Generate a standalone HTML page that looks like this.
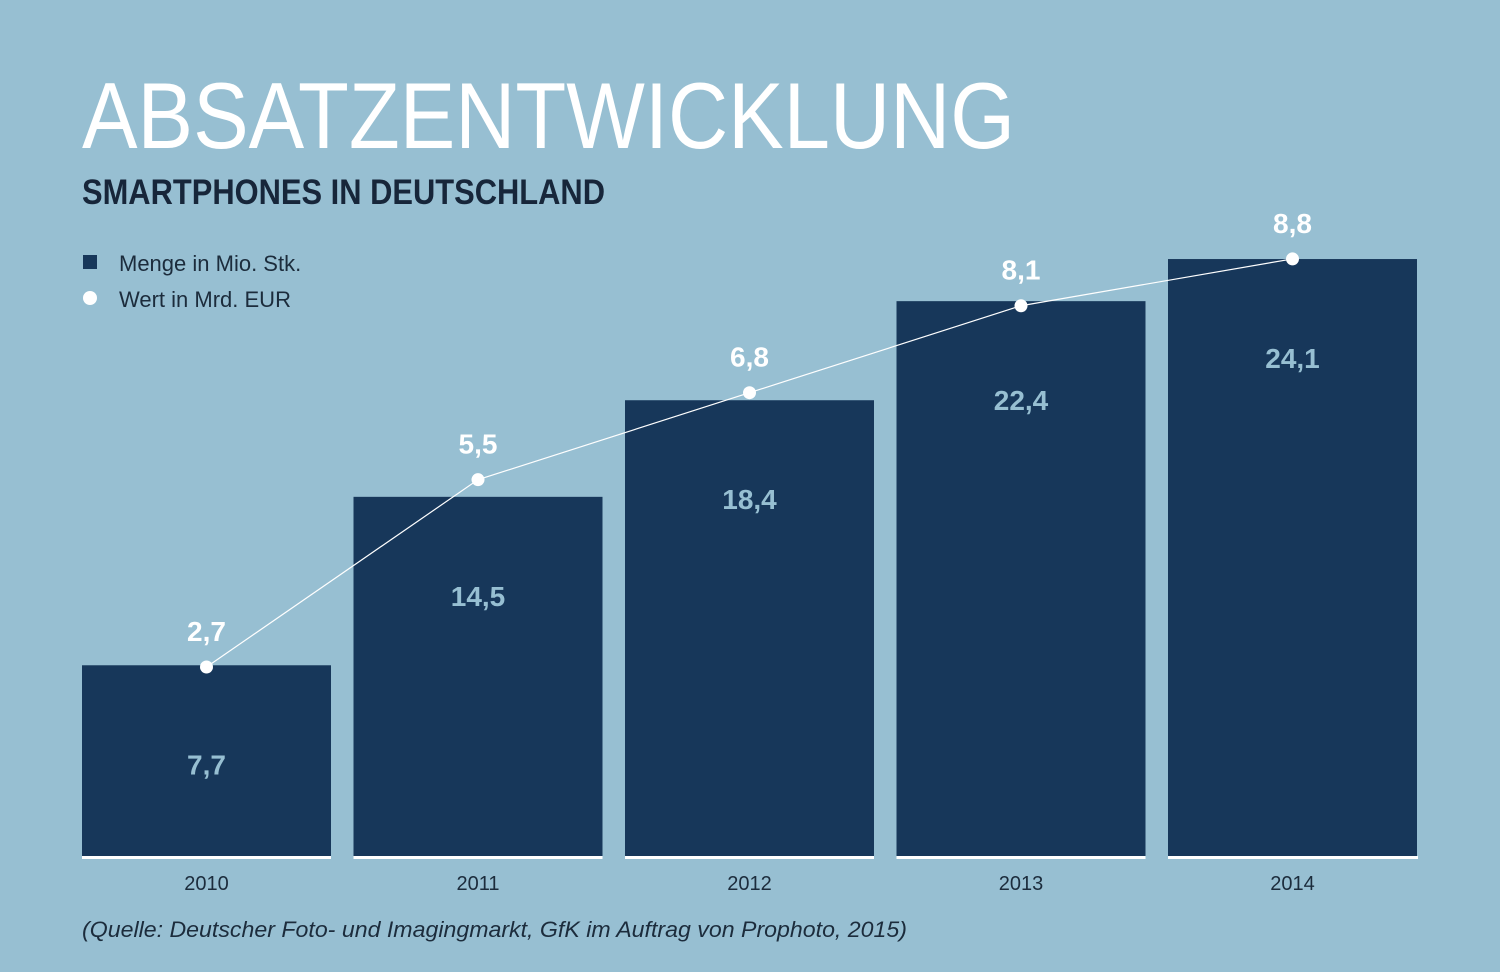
<!DOCTYPE html>
<html><head><meta charset="utf-8"><style>
html,body{margin:0;padding:0;background:#97bfd2;}
svg{display:block;font-family:"Liberation Sans",sans-serif;}
</style></head><body>
<svg id="chart" width="1500" height="972" viewBox="0 0 1500 972" xmlns="http://www.w3.org/2000/svg">
<rect width="1500" height="972" fill="#97bfd2"/>
<text x="82" y="148" font-size="94" fill="#ffffff" textLength="933" lengthAdjust="spacingAndGlyphs">ABSATZENTWICKLUNG</text>
<text x="82" y="204" font-size="35" font-weight="bold" fill="#17263a" textLength="523" lengthAdjust="spacingAndGlyphs">SMARTPHONES IN DEUTSCHLAND</text>
<g>
<rect x="83" y="255" width="14" height="14" fill="#17375a"/>
<text x="119" y="271" font-size="22" fill="#1c2c3c">Menge in Mio. Stk.</text>
<circle cx="90" cy="298" r="7" fill="#ffffff"/>
<text x="119" y="307" font-size="22" fill="#1c2c3c">Wert in Mrd. EUR</text>
</g>
<g id="plot"></g>
<text x="82" y="937" font-size="22" font-style="italic" fill="#1c2c3c" textLength="825" lengthAdjust="spacingAndGlyphs">(Quelle: Deutscher Foto- und Imagingmarkt, GfK im Auftrag von Prophoto, 2015)</text>
</svg>
<script>
const years = ["2010","2011","2012","2013","2014"];
const menge = [7.7, 14.5, 18.4, 22.4, 24.1];
const wert = [2.7, 5.5, 6.8, 8.1, 8.8];
const mengeLabels = ["7,7","14,5","18,4","22,4","24,1"];
const wertLabels = ["2,7","5,5","6,8","8,1","8,8"];

const NS = "http://www.w3.org/2000/svg";
const g = document.getElementById("plot");
const baseY = 856, barW = 249, x0 = 82, step = 271.5;
function xBar(i){ return x0 + i*step; }
function yBar(v){ return baseY - v*24.77; }
function yLine(v){ return 667 - (v-2.7)*66.9; }
function mk(tag, attrs){ const e=document.createElementNS(NS,tag); for(const k in attrs) e.setAttribute(k,attrs[k]); g.appendChild(e); return e; }

menge.forEach((v,i)=>{
  const r = mk("rect",{x:xBar(i),y:yBar(v),width:barW,height:baseY-yBar(v),fill:"#17375a"});
  
  
  const t = mk("text",{x:xBar(i)+barW/2,y:yBar(v)+109,"font-size":28,"font-weight":"bold",fill:"#97bfd2","text-anchor":"middle"});
  t.textContent = mengeLabels[i];
  
  
  const yl = mk("text",{x:xBar(i)+barW/2,y:890,"font-size":20,fill:"#1c2c3c","text-anchor":"middle"});
  yl.textContent = years[i];
  
  
});
const base = mk("rect",{x:82,y:856,width:1336,height:3,fill:"#ffffff"});


// gaps in baseline between bars
for(let i=0;i<years.length-1;i++){
  const gap = mk("rect",{x:xBar(i)+barW,y:855,width:step-barW,height:5,fill:"#97bfd2"});
  
  
}
const pts = wert.map((v,i)=>(xBar(i)+barW/2)+","+yLine(v)).join(" ");
const line = mk("polyline",{points:pts,fill:"none",stroke:"#ffffff","stroke-width":1.2});


wert.forEach((v,i)=>{
  const c = mk("circle",{cx:xBar(i)+barW/2,cy:yLine(v),r:6.5,fill:"#ffffff"});
  
  
  const t = mk("text",{x:xBar(i)+barW/2,y:yLine(v)-26,"font-size":28,"font-weight":"bold",fill:"#ffffff","text-anchor":"middle"});
  t.textContent = wertLabels[i];
  
  
});
</script>
</body></html>
